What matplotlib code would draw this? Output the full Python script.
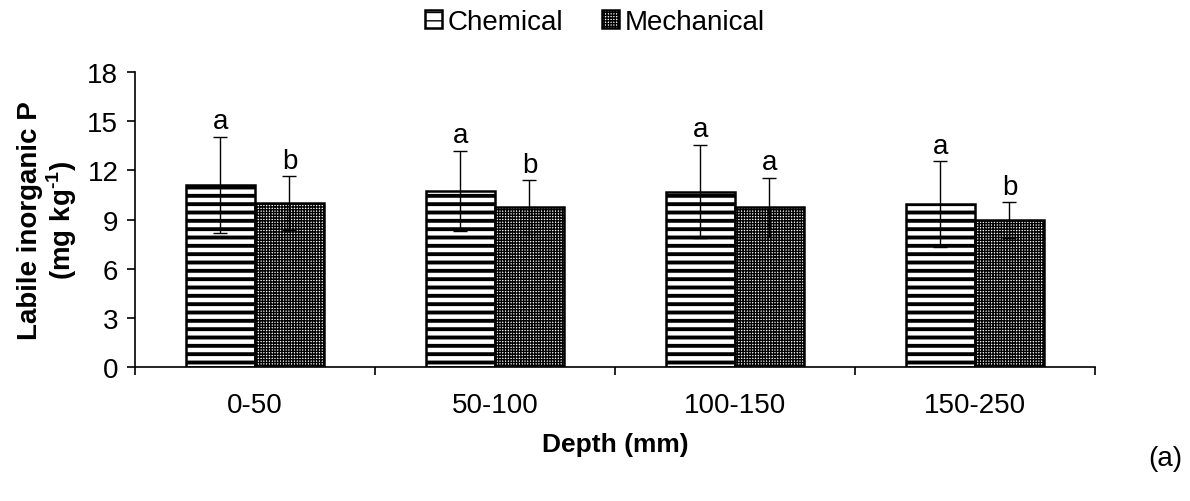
import numpy as np
import matplotlib
matplotlib.use("Agg")
import matplotlib.pyplot as plt

# data
depths = ["0-50", "50-100", "100-150", "150-250"]
chemical = [11.1, 10.75, 10.7, 9.95]
chemical_err = [2.95, 2.45, 2.85, 2.6]
mechanical = [10.0, 9.75, 9.75, 8.95]
mechanical_err = [1.65, 1.65, 1.8, 1.1]
chemical_letters = ["a", "a", "a", "a"]
mechanical_letters = ["b", "b", "a", "b"]

plt.rcParams['font.family'] = ['Liberation Sans', 'DejaVu Sans']
plt.rcParams['mathtext.fontset'] = 'custom'
plt.rcParams['mathtext.rm'] = 'Liberation Sans:bold'
plt.rcParams['mathtext.bf'] = 'Liberation Sans:bold'

fig = plt.figure(figsize=(11.9, 5.02), dpi=100)
ax = fig.add_axes([0.1134, 0.2669, 0.8067, 0.5877])

x = np.arange(len(depths))
w = 0.2875

plt.rcParams['hatch.linewidth'] = 2.8
b1 = ax.bar(x - w / 2, chemical, w, color='white', edgecolor='black',
            linewidth=1.8, hatch='--', label='Chemical', zorder=2)
plt.rcParams['hatch.linewidth'] = 1.0
b2 = ax.bar(x + w / 2, mechanical, w, color='white', edgecolor='black',
            linewidth=1.8, hatch='++++++', label='Mechanical', zorder=2)
for p in b1:
    if hasattr(p, 'set_hatch_linewidth'):
        p.set_hatch_linewidth(2.8)
for p in b2:
    if hasattr(p, 'set_hatch_linewidth'):
        p.set_hatch_linewidth(1.0)

ax.errorbar(x - w / 2, chemical, yerr=chemical_err, fmt='none', ecolor='black',
            elinewidth=1, capsize=5, capthick=1, zorder=3)
ax.errorbar(x + w / 2, mechanical, yerr=mechanical_err, fmt='none', ecolor='black',
            elinewidth=1, capsize=5, capthick=1, zorder=3)

for i in range(len(depths)):
    ax.text(x[i] - w / 2, chemical[i] + chemical_err[i] + 0.15, chemical_letters[i],
            ha='center', va='bottom', fontsize=20)
    ax.text(x[i] + w / 2, mechanical[i] + mechanical_err[i] + 0.15, mechanical_letters[i],
            ha='center', va='bottom', fontsize=20)

ax.set_xlim(-0.5, len(depths) - 0.5)
ax.set_ylim(0, 18)
ax.set_yticks(np.arange(0, 19, 3))
ax.set_xticks(x)
ax.set_xticklabels(depths)
ax.set_xticks(np.arange(-0.5, len(depths), 1), minor=True)
ax.tick_params(axis='x', which='major', length=0, labelsize=20, pad=18)
ax.tick_params(axis='x', which='minor', length=6, width=1.2, direction='out')
ax.tick_params(axis='y', length=6, width=1.2, direction='out', labelsize=20, pad=6)

ax.spines['top'].set_visible(False)
ax.spines['right'].set_visible(False)
ax.spines['left'].set_linewidth(1.2)
ax.spines['bottom'].set_linewidth(1.2)

ax.set_xlabel("Depth (mm)", fontsize=19, fontweight='bold', labelpad=10)
ax.set_ylabel("Labile inorganic P\n(mg kg$^{\\text{-}1}$)", fontsize=20,
              fontweight='bold', labelpad=6, linespacing=1.05)

fig.legend(handles=[b1, b2], labels=['Chemical', 'Mechanical'], loc='upper center',
           bbox_to_anchor=(0.5, 1.03), ncol=2, frameon=False, fontsize=20,
           handlelength=0.6, handleheight=0.6, handletextpad=0.2, columnspacing=1.4)

fig.text(0.979, 0.085, "(a)", fontsize=20, ha='center', va='center')

fig.savefig("out.png", dpi=100)
